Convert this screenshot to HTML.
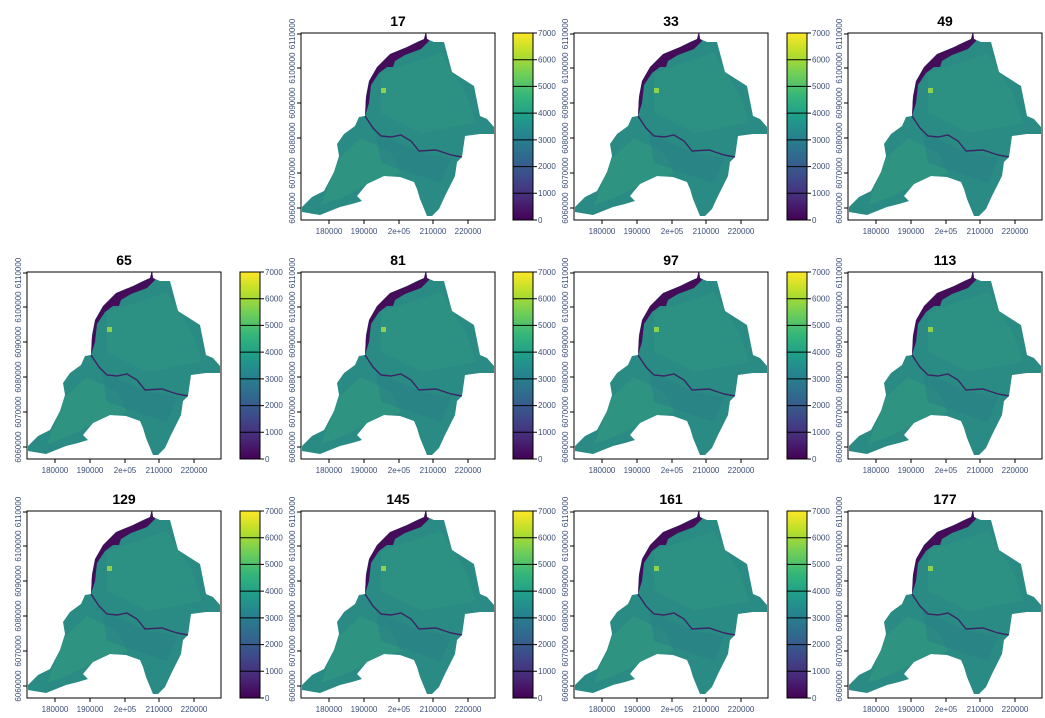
<!DOCTYPE html>
<html><head><meta charset="utf-8"><style>
html,body{margin:0;padding:0;background:#fff;}
svg{display:block;font-family:"Liberation Sans",sans-serif;}
</style></head><body>
<svg width="1045" height="718" viewBox="0 0 1045 718" xmlns="http://www.w3.org/2000/svg">
<defs>
<linearGradient id="vir" x1="0" y1="1" x2="0" y2="0">
<stop offset="0" stop-color="#440154"/><stop offset="0.111" stop-color="#482878"/>
<stop offset="0.222" stop-color="#3e4989"/><stop offset="0.333" stop-color="#31688e"/>
<stop offset="0.444" stop-color="#26828e"/><stop offset="0.556" stop-color="#1f9e89"/>
<stop offset="0.667" stop-color="#35b779"/><stop offset="0.778" stop-color="#6ece58"/>
<stop offset="0.889" stop-color="#b5de2b"/><stop offset="1" stop-color="#fde725"/>
</linearGradient>
<clipPath id="fc"><rect x="0" y="0" width="194" height="187"/></clipPath>
<clipPath id="oc"><polygon points="125,-2 123,6 116,9 106,14 89,21 76,34 68,48 65,63 64,83 58,84 54,93 43,101 36,111 38,123 33,139 23,158 11,164 1,174 1,179 19,182 39,174 51,171 61,168 56,163 66,151 83,143 99,144 113,149 116,156 119,166 126,183 131,183 138,176 144,163 154,143 156,129 161,124 164,103 179,101 193,101 193,94 186,86 179,83 173,53 151,39 143,9 133,9 126,6"/></clipPath>
<symbol id="map" overflow="visible">
<g clip-path="url(#fc)">
<g clip-path="url(#oc)">
<rect x="0" y="-5" width="194" height="195" fill="#2a8a84"/>
<path d="M80,40 L140,20 L165,60 L175,90 L120,100 L80,80Z" fill="#2f9481" opacity="0.6"/>
<path d="M38,125 L60,105 L90,120 L100,140 L70,150 L40,165 L20,172Z" fill="#349a7f" opacity="0.6"/>
<path d="M75,100 L120,120 L150,125 L140,150 L110,140 L80,130Z" fill="#277e86" opacity="0.5"/>
<polygon fill="#440d5a" points="125,-5 123,6 106,14 89,21 76,34 68,48 64,70 64,83 68,70 70,52 78,40 86,34 92,34 94,28 104,22 120,16 128,8"/>
<path d="M64,83 L72,95 L80,103 L90,104 L100,102 L110,108 L118,118 L135,117 L150,122 L161,124" fill="none" stroke="#3b2466" stroke-width="1.4"/>
</g>
<rect x="80" y="55" width="5" height="5" fill="#8fd14a"/>
</g>
<rect x="0" y="0" width="194" height="187" fill="none" stroke="#000" stroke-width="1"/>
<g stroke="#000" stroke-width="1">
<line x1="28" y1="187" x2="28" y2="191"/><line x1="63" y1="187" x2="63" y2="191"/><line x1="98" y1="187" x2="98" y2="191"/><line x1="132" y1="187" x2="132" y2="191"/><line x1="167" y1="187" x2="167" y2="191"/>
<line x1="0" y1="1" x2="-4" y2="1"/><line x1="0" y1="35" x2="-4" y2="35"/><line x1="0" y1="70" x2="-4" y2="70"/><line x1="0" y1="105" x2="-4" y2="105"/><line x1="0" y1="140" x2="-4" y2="140"/><line x1="0" y1="175" x2="-4" y2="175"/>
</g>
<g font-size="8" text-anchor="middle" fill="#3c4f78">
<text x="28" y="201">180000</text><text x="63" y="201">190000</text><text x="98" y="201">2e+05</text><text x="132" y="201">210000</text><text x="167" y="201">220000</text>
<text transform="translate(-6,1) rotate(-90)">6110000</text>
<text transform="translate(-6,35) rotate(-90)">6100000</text>
<text transform="translate(-6,70) rotate(-90)">6090000</text>
<text transform="translate(-6,105) rotate(-90)">6080000</text>
<text transform="translate(-6,140) rotate(-90)">6070000</text>
<text transform="translate(-6,175) rotate(-90)">6060000</text>
</g>
</symbol>
<symbol id="cbar" overflow="visible">
<rect x="0" y="0" width="20" height="187" fill="url(#vir)" stroke="#000"/>
<g stroke="#000" stroke-width="1">
<line x1="0" y1="26.7" x2="24" y2="26.7"/><line x1="0" y1="53.4" x2="24" y2="53.4"/><line x1="0" y1="80.1" x2="24" y2="80.1"/><line x1="0" y1="106.9" x2="24" y2="106.9"/><line x1="0" y1="133.6" x2="24" y2="133.6"/><line x1="0" y1="160.3" x2="24" y2="160.3"/>
<line x1="20" y1="0" x2="24" y2="0"/><line x1="20" y1="187" x2="24" y2="187"/>
</g>
<g font-size="8" fill="#3c4f78">
<text x="25" y="3">7000</text><text x="25" y="29.5">6000</text><text x="25" y="56">5000</text><text x="25" y="83">4000</text><text x="25" y="110">3000</text><text x="25" y="136">2000</text><text x="25" y="163">1000</text><text x="25" y="190">0</text>
</g>
</symbol>
</defs>

<g font-size="14" font-weight="bold" text-anchor="middle" fill="#000">
<text x="398" y="26">17</text><text x="671" y="26">33</text><text x="945" y="26">49</text>
<text x="124" y="265">65</text><text x="398" y="265">81</text><text x="671" y="265">97</text><text x="945" y="265">113</text>
<text x="124" y="504">129</text><text x="398" y="504">145</text><text x="671" y="504">161</text><text x="945" y="504">177</text>
</g>

<use href="#map" x="301" y="33"/><use href="#map" x="574" y="33"/><use href="#map" x="848" y="33"/>
<use href="#map" x="27" y="272"/><use href="#map" x="301" y="272"/><use href="#map" x="574" y="272"/><use href="#map" x="848" y="272"/>
<use href="#map" x="27" y="511"/><use href="#map" x="301" y="511"/><use href="#map" x="574" y="511"/><use href="#map" x="848" y="511"/>

<use href="#cbar" x="513" y="33"/><use href="#cbar" x="787" y="33"/>
<use href="#cbar" x="240" y="272"/><use href="#cbar" x="513" y="272"/><use href="#cbar" x="787" y="272"/>
<use href="#cbar" x="240" y="511"/><use href="#cbar" x="513" y="511"/><use href="#cbar" x="787" y="511"/>
</svg>
</body></html>
